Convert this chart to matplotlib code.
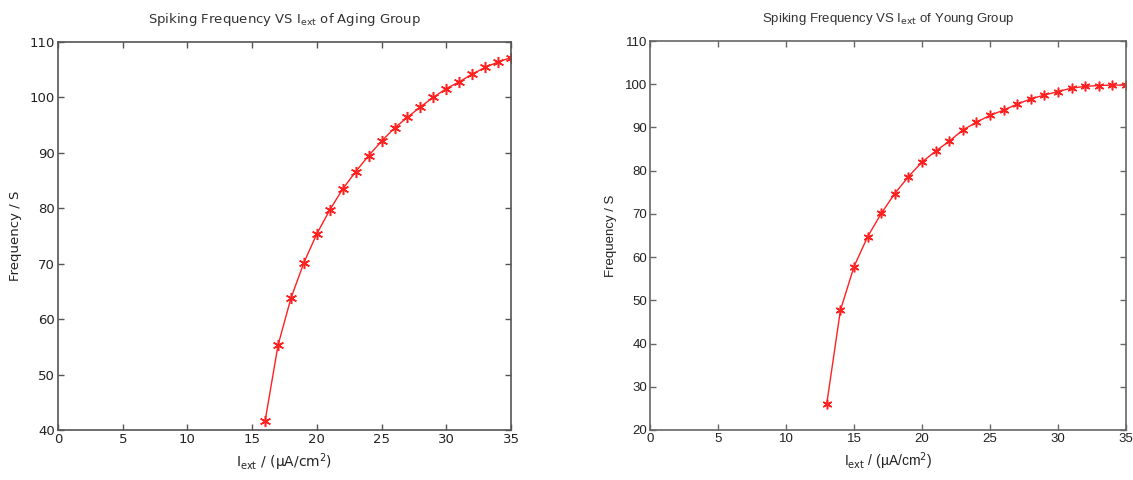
import matplotlib
matplotlib.use("Agg")
import matplotlib.pyplot as plt

# ── data ──
aging_I = [16, 17, 18, 19, 20, 21, 22, 23, 24, 25, 26, 27, 28, 29, 30, 31, 32, 33, 34, 35]
aging_f = [41.6, 55.3, 63.8, 70.2, 75.4, 79.7, 83.5, 86.6, 89.5, 92.1,
           94.5, 96.4, 98.3, 100.0, 101.6, 102.8, 104.2, 105.4, 106.4, 107.2]

young_I = [13, 14, 15, 16, 17, 18, 19, 20, 21, 22, 23, 24, 25, 26, 27, 28, 29, 30, 31, 32, 33, 34, 35]
young_f = [26.1, 47.7, 57.8, 64.7, 70.1, 74.7, 78.6, 82.0, 84.5, 86.8, 89.4, 91.2,
           92.8, 94.0, 95.4, 96.6, 97.5, 98.3, 99.1, 99.5, 99.7, 99.8, 99.8]

xticks = [0, 5, 10, 15, 20, 25, 30, 35]
aging_yticks = [40, 50, 60, 70, 80, 90, 100, 110]
young_yticks = [20, 30, 40, 50, 60, 70, 80, 90, 100, 110]

fig = plt.figure(figsize=(11.33, 4.8), dpi=100)

panels = [
    # rect, x, y, yticks, group, font, axis colour, marker size
    ([58/1133, 1-430/480, 453/1133, 388/480], aging_I, aging_f, aging_yticks, "Aging", "DejaVu Sans", "#555555", 8),
    ([650/1133, 1-430/480, 476/1133, 389/480], young_I, young_f, young_yticks, "Young", "Liberation Sans", "#666666", 7),
]

for rect, xs, ys, yt, group, fam, acol, msz in panels:
    ax = fig.add_axes(rect)
    ax.plot(xs, ys, color="#ff2020", lw=1, marker=(6, 2, 0), ms=msz, mew=1.1)
    ax.set_xlim(0, 35)
    ax.set_ylim(yt[0], yt[-1])
    ax.set_xticks(xticks)
    ax.set_yticks(yt)
    ax.tick_params(direction="in", top=True, right=True, length=4, width=1,
                   color=acol, labelsize=9.5, pad=2)
    for lab in ax.get_xticklabels() + ax.get_yticklabels():
        lab.set_family(fam)
        lab.set_color("#222222")
    for sp in ax.spines.values():
        sp.set_color(acol)
        sp.set_linewidth(1.2)
    ax.set_title(r"Spiking Frequency VS I$_{\rm ext}$ of %s Group" % group,
                 fontsize=9.5, family=fam, color="#333333", pad=14)
    ax.set_xlabel(r"I$_{\rm ext}$ / (µA/cm$^2$)", fontsize=10, family=fam, color="#222222")
    ax.set_ylabel("Frequency / S", fontsize=9.5, family=fam, color="#222222", labelpad=6)

plt.savefig("out.png", dpi=100)
